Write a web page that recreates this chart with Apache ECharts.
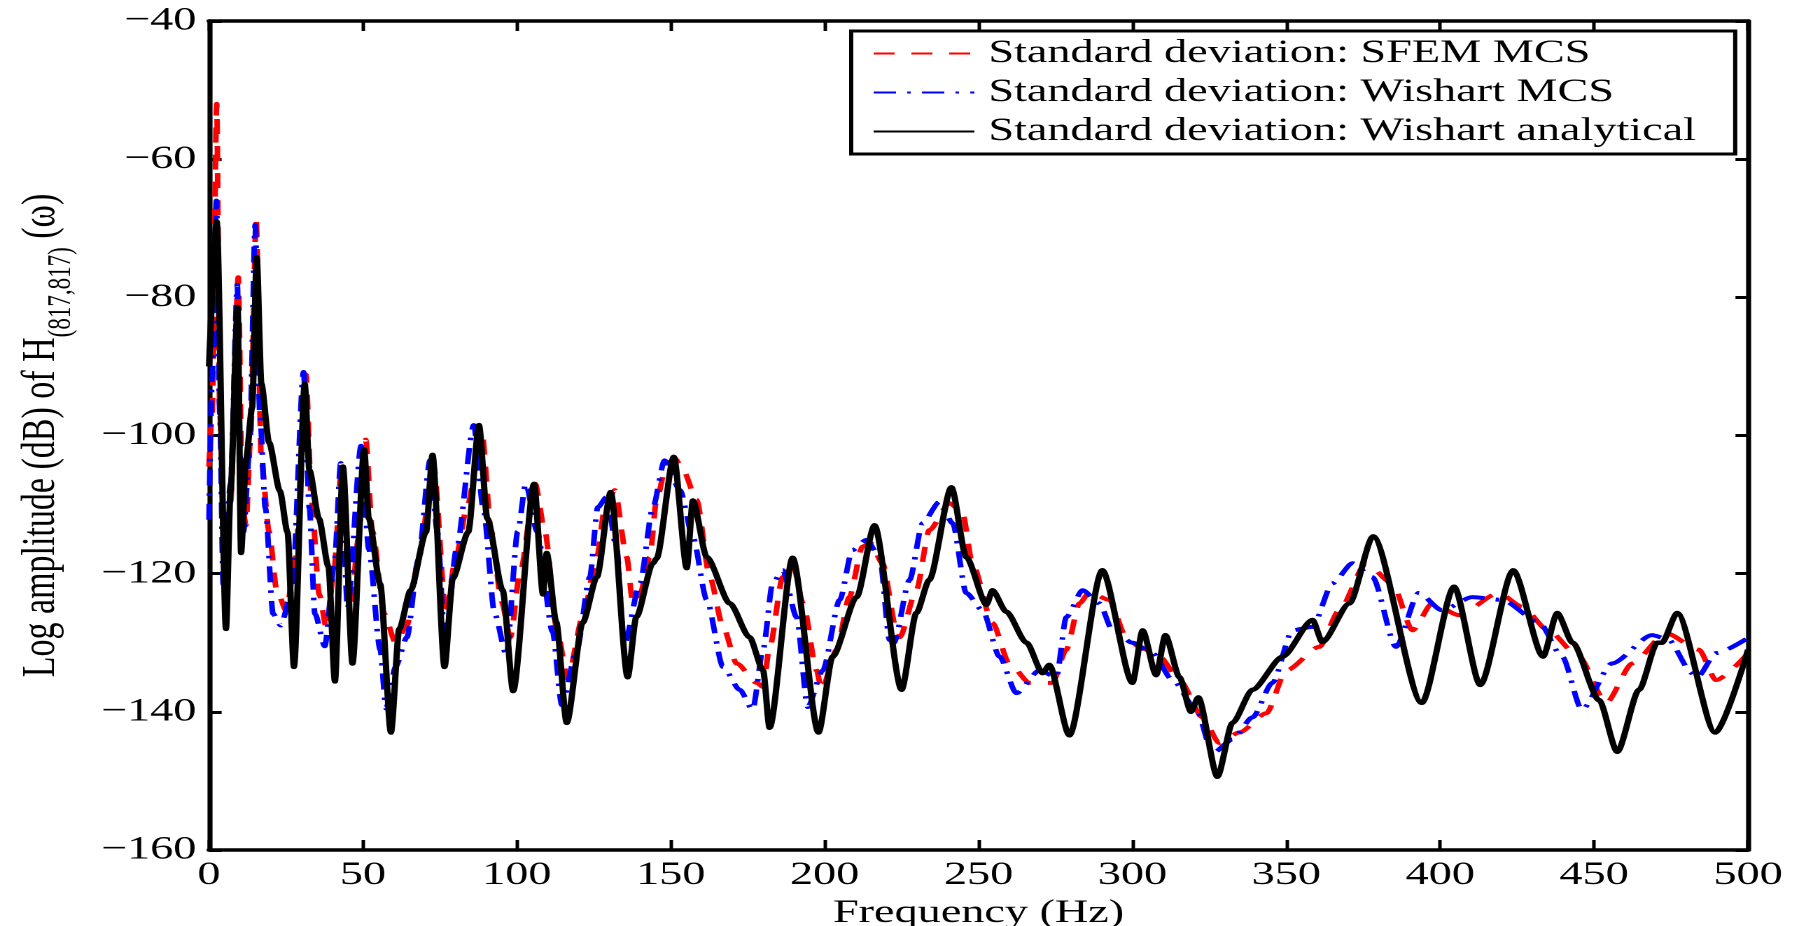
<!DOCTYPE html>
<html>
<head>
<meta charset="utf-8">
<script src="https://cdn.jsdelivr.net/npm/echarts@6/dist/echarts.min.js"></script>
<style>
html,body{margin:0;padding:0;background:#fff;overflow:hidden;width:1799px;height:926px;}
/* the reference figure is a horizontally stretched export: draw at 1285px wide and stretch by 1.4 */
#chart{width:1285px;height:926px;transform:scaleX(1.4);transform-origin:0 0;}
</style>
</head>
<body>
<div id="chart"></div>
<script>
// ---- data (frequency in Hz, amplitude in dB) ----
const seriesNames = ['Standard deviation: SFEM MCS', 'Standard deviation: Wishart MCS', 'Standard deviation: Wishart analytical'];

const sfemFreq = [0,1,2.5,3.5,5.2,7,9.5,10.8,12,13.5,15.3,17,19.5,22,25.1,28,31.5,33.3,35.8,38.2,40.5,43.2,45.9,48.5,50.9,53.1,56.9,60.6,64.3,68,73,77,80,84,88.6,91.7,95,97.9,101,106,109.1,113,116.5,121.4,126,128.6,131.8,135.7,137.7,140,143.2,145.4,148.7,151.5,154,158.4,162.7,167,171.4,178,180,182,186.4,189.6,193,197.4,199,203.9,208,212.3,214.8,218.8,223.4,224.4,229.8,234,240.6,244.8,248,254.5,260,266.6,274,278.5,282.8,286,292.5,298,302.3,308.8,315.3,322.8,328.2,334.7,343.5,350,360.7,367.2,375.9,384.4,391,397.4,406,419,426.7,435,445,453.9,462.4,473.3,484,489.6,500];
const sfemDb = [-104.5,-96.8,-52,-96.8,-119,-109.6,-77.1,-110,-113,-100,-68.6,-103.6,-113.9,-122.4,-125.4,-118,-91.2,-109.5,-123,-128,-120,-104,-126,-115,-100.6,-113.9,-125.8,-130,-127.5,-118,-104.5,-126,-118,-110,-99.4,-113.9,-124,-129.2,-120,-107,-113.9,-128,-135.2,-126.3,-117.6,-110.4,-107.9,-117.6,-124.3,-123,-117.6,-109.3,-104,-103.4,-105,-109.3,-120.5,-127.7,-133,-135.8,-136.4,-131,-120.5,-118.5,-124.3,-134,-136.8,-131,-123.4,-116.1,-115.5,-118.5,-128.2,-129.2,-122.4,-113.7,-109.8,-111.2,-118.5,-127.1,-133,-135.8,-135.8,-131,-124.3,-122.7,-123.8,-129.2,-130.6,-132,-135.4,-140.8,-144.5,-143,-140.2,-134,-130.6,-125.3,-118.5,-121.4,-128.2,-124.3,-126,-122.8,-124.8,-128.2,-132,-138.7,-133,-128.6,-131,-135.4,-131.5];

const wishartFreq = [0,1,2.4,3.5,4.6,7,9.2,10.2,11.2,13.2,15,16.5,18.3,20.8,23.3,27,30.7,32.6,34.4,37.6,40.7,42.8,45,49.4,51.9,55.6,57.5,60.6,64.3,68,71.8,74.2,76.7,80.4,86,89.1,92.8,96.6,100.3,102.9,106.6,111.6,114.6,119.5,123.7,126.3,129.2,132.5,134.8,140,144.2,148,153,157.2,161.7,167,172.4,176.6,180,183.1,186.4,190.9,194.5,199.4,204.9,209,213.6,217.9,221.1,222.5,227.6,231.8,237.3,241.6,246,251.3,256.8,262.3,269.8,275.3,278.5,283.8,289.3,293.5,300,306.5,313,320.8,326,332.5,339,345.5,352,358.5,365,371.5,378,385.6,393,400.6,410.4,420,432,439.6,446,455.8,468.8,474,481.8,483.5,489.6,500];
const wishartDb = [-112.2,-91.7,-66,-96.8,-121.5,-107,-78.2,-105.3,-113.9,-101.9,-69.5,-96.8,-110.5,-125.8,-127.5,-122.4,-90.8,-110.5,-125.8,-130.5,-118.7,-104,-125,-101.5,-116.4,-131,-139.5,-133.5,-129.2,-118,-103.6,-114,-130.5,-116.4,-98.5,-110.5,-125.8,-131.8,-113.9,-107,-113.9,-128.4,-139,-131,-120.5,-110.4,-108.9,-116.6,-130.5,-121.4,-110.4,-103.6,-107.9,-114.7,-123.8,-133.5,-136.8,-139.7,-131,-121.4,-119.5,-126.3,-139.3,-134,-123.8,-116.6,-115.1,-117.6,-129.6,-130,-120.9,-112.7,-109.6,-112.7,-122.8,-125.3,-132,-137.3,-134,-135,-126.3,-122.4,-124.3,-128.2,-130,-131.5,-135.4,-139.7,-146,-144,-140.8,-135.8,-128.2,-127.7,-121.4,-118.5,-120.5,-130.6,-122.8,-125.3,-123.4,-123.8,-127,-132,-139.7,-133,-128.9,-129.5,-134.4,-135,-131.5,-129.3];

const analyticalFreq = [0,2.5,5.5,7,9.3,10.4,12,14,15.5,17,19.5,23,25.5,27.6,31.1,32.6,35.7,38.8,40.9,43.5,46.6,50.4,51.9,55.6,59.1,61.8,65.5,70.5,72.6,76.5,79.2,84.2,87.7,90.4,95.4,98.8,105.6,108.5,109.7,112.8,116.2,121.4,126,130.5,136,138.8,144.2,145.4,151,155.2,157.2,161.7,169.2,175.6,180,182.1,189.6,198,202.6,210.4,216.2,225,229.8,234,241.2,246,252.6,254.5,259,265.6,270.8,273,279.5,290.2,300,303.3,307.7,310.7,315.3,319,321.4,327.6,332.5,339,348.8,358.5,361.7,370.5,378.2,394,404.5,413,423.7,433.4,438,443,451.6,457.5,464.6,470.5,472,477,489.3,500];
const analyticalDb = [-90,-69,-128,-108,-81.4,-117,-103.6,-96,-74.2,-92.5,-101,-108,-114,-133.5,-92.5,-105,-112,-119,-135.6,-104.5,-133,-102,-112,-121.5,-143,-128,-122.4,-114,-102.8,-133.5,-120.7,-114,-98.5,-112,-122.4,-137,-107,-123,-117,-127,-141.6,-127.1,-120.5,-108.2,-135,-126.3,-118.5,-117.8,-103.1,-119.2,-109.4,-117.6,-124.3,-129.2,-134,-142.3,-117.7,-143,-132,-123.4,-113,-136.8,-125.7,-120.9,-107.5,-117.6,-124.5,-122.4,-125.5,-130,-134.4,-133.2,-143.4,-119.5,-135.8,-128.2,-134.7,-128.9,-135,-140,-137.9,-149.4,-141.6,-136.8,-132,-126.7,-129.9,-124.3,-114.6,-138.7,-121.9,-136.1,-119.5,-132,-125.7,-130,-138.3,-145.8,-136.8,-130,-130,-125.7,-143,-131];

const xRange = [0, 500, 50];
const yRange = [-160, -40, 20];

// ---- chart ----
const pairs = (xs, ys) => xs.map((x, i) => [x, ys[i]]);
const FONT = '"Liberation Serif", "Times New Roman", serif';
const minus = v => String(v).replace('-', '\u2212');

const axisLineStyle = { color: '#000', width: 3.6 };
const xTick = { show: true, inside: true, length: 10, lineStyle: { color: '#000', width: 2.5 } };
const yTick = { show: true, inside: true, length: 9, lineStyle: { color: '#000', width: 3 } };
const labelFont = { fontFamily: FONT, fontSize: 33, color: '#000' };

const chart = echarts.init(document.getElementById('chart'), null, { renderer: 'canvas', devicePixelRatio: 2 });
chart.setOption({
  animation: false,
  backgroundColor: '#fff',
  grid: { left: 149.3, right: 36.4, top: 21, bottom: 76, containLabel: false, outerBoundsMode: 'none' },
  legend: {
    data: seriesNames,
    orient: 'vertical',
    left: 608,
    top: 31,
    itemWidth: 72,
    itemHeight: 20,
    itemGap: 6,
    padding: [6, 28, 6, 15],
    backgroundColor: '#fff',
    borderColor: '#000',
    borderWidth: 3,
    borderRadius: 0,
    itemStyle: { opacity: 0 },
    textStyle: { fontFamily: FONT, fontSize: 33, color: '#000', padding: [0, 0, 0, 5] }
  },
  xAxis: [{
    type: 'value', min: xRange[0], max: xRange[1], interval: xRange[2],
    position: 'bottom',
    axisLine: { show: true, onZero: false, lineStyle: axisLineStyle },
    axisTick: xTick,
    splitLine: { show: false },
    axisLabel: Object.assign({ margin: 9 }, labelFont),
    name: 'Frequency (Hz)', nameLocation: 'middle', nameGap: 43,
    nameTextStyle: labelFont
  }, {
    type: 'value', min: xRange[0], max: xRange[1], interval: xRange[2],
    position: 'top',
    axisLine: { show: true, onZero: false, lineStyle: axisLineStyle },
    axisTick: xTick,
    splitLine: { show: false },
    axisLabel: { show: false }
  }],
  yAxis: [{
    type: 'value', min: yRange[0], max: yRange[1], interval: yRange[2],
    position: 'left',
    axisLine: { show: true, onZero: false, lineStyle: axisLineStyle },
    axisTick: yTick,
    splitLine: { show: false },
    axisLabel: Object.assign({ margin: 9, formatter: minus }, labelFont),
    name: '{m|Log amplitude (dB) of H}{s|(817,817)}{m| (\u03c9)}',
    nameLocation: 'middle', nameGap: 94, nameRotate: 90,
    nameTextStyle: {
      color: '#000',
      rich: {
        m: { fontFamily: FONT, fontSize: 34, color: '#000' },
        s: { fontFamily: FONT, fontSize: 23, color: '#000', padding: [28, 0, 0, 0] }
      }
    }
  }, {
    type: 'value', min: yRange[0], max: yRange[1], interval: yRange[2],
    position: 'right',
    axisLine: { show: true, onZero: false, lineStyle: axisLineStyle },
    axisTick: yTick,
    splitLine: { show: false },
    axisLabel: { show: false }
  }],
  series: [{
    name: seriesNames[0], type: 'line', xAxisIndex: 0, yAxisIndex: 0,
    data: pairs(sfemFreq, sfemDb),
    symbol: 'none', showSymbol: false, smooth: 0.25, smoothMonotone: 'x',
    lineStyle: { color: '#ff0000', width: 4, type: [15, 12] },
    itemStyle: { color: '#ff0000' }
  }, {
    name: seriesNames[1], type: 'line', xAxisIndex: 0, yAxisIndex: 0,
    data: pairs(wishartFreq, wishartDb),
    symbol: 'none', showSymbol: false, smooth: 0.25, smoothMonotone: 'x',
    lineStyle: { color: '#0000ff', width: 4, type: [16, 8, 2.5, 8] },
    itemStyle: { color: '#0000ff' }
  }, {
    name: seriesNames[2], type: 'line', xAxisIndex: 0, yAxisIndex: 0,
    data: pairs(analyticalFreq, analyticalDb),
    symbol: 'none', showSymbol: false, smooth: 0.25, smoothMonotone: 'x',
    lineStyle: { color: '#000000', width: 4.5, type: 'solid' },
    itemStyle: { color: '#000000' }
  }]
});
</script>
</body>
</html>
